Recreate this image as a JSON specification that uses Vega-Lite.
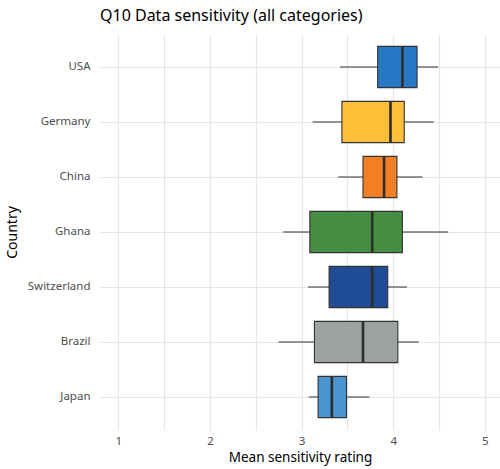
{
  "$schema": "https://vega.github.io/schema/vega-lite/v6.json",
  "autosize": "none",
  "width": 400,
  "height": 396,
  "padding": {"left": 100, "top": 34, "right": 0, "bottom": 39},
  "background": "white",
  "config": {
    "view": {"stroke": null},
    "font": "Noto Sans"
  },
  "title": {
    "text": "Q10 Data sensitivity (all categories)",
    "anchor": "start",
    "frame": "group",
    "fontSize": 16,
    "fontWeight": "normal",
    "color": "#000000",
    "offset": 10
  },
  "data": {
    "values": [
      {"country": "USA", "lower": 3.42, "q1": 3.83, "median": 4.10, "q3": 4.26, "upper": 4.49, "color": "#2777C4"},
      {"country": "Germany", "lower": 3.12, "q1": 3.44, "median": 3.97, "q3": 4.12, "upper": 4.44, "color": "#FDBE38"},
      {"country": "China", "lower": 3.40, "q1": 3.67, "median": 3.90, "q3": 4.04, "upper": 4.32, "color": "#F27F24"},
      {"country": "Ghana", "lower": 2.80, "q1": 3.09, "median": 3.77, "q3": 4.10, "upper": 4.60, "color": "#468E3F"},
      {"country": "Switzerland", "lower": 3.07, "q1": 3.30, "median": 3.77, "q3": 3.94, "upper": 4.15, "color": "#1F4C95"},
      {"country": "Brazil", "lower": 2.75, "q1": 3.14, "median": 3.67, "q3": 4.05, "upper": 4.28, "color": "#9DA2A2"},
      {"country": "Japan", "lower": 3.08, "q1": 3.18, "median": 3.33, "q3": 3.49, "upper": 3.74, "color": "#4A94D0"}
    ]
  },
  "encoding": {
    "y": {
      "field": "country",
      "type": "nominal",
      "sort": ["USA", "Germany", "China", "Ghana", "Switzerland", "Brazil", "Japan"],
      "scale": {"paddingInner": 0.25, "paddingOuter": 0.225},
      "axis": {
        "title": "Country",
        "titleFontSize": 14,
        "titleFontWeight": "normal",
        "titleColor": "#000000",
        "titlePadding": 8,
        "labelFontSize": 11.5,
        "labelColor": "#4d4d4d",
        "labelPadding": 10,
        "ticks": false,
        "domain": false,
        "grid": true,
        "gridColor": "#e6e6e6",
        "gridWidth": 1.2
      }
    }
  },
  "layer": [
    {
      "mark": {"type": "rule", "color": "#333333", "strokeWidth": 1.2},
      "encoding": {
        "x": {
          "field": "lower",
          "type": "quantitative",
          "scale": {"domain": [0.8, 5.165], "nice": false, "zero": false},
          "axis": {
            "title": "Mean sensitivity rating",
            "titleFontSize": 13.5,
            "titleFontWeight": "normal",
            "titleColor": "#000000",
            "titlePadding": 4,
            "values": [1, 1.5, 2, 2.5, 3, 3.5, 4, 4.5, 5],
            "labelExpr": "datum.value % 1 === 0 ? format(datum.value, 'd') : ''",
            "labelFontSize": 11.5,
            "labelColor": "#4d4d4d",
            "labelPadding": 5,
            "ticks": false,
            "domain": false,
            "grid": true,
            "gridColor": "#e6e6e6",
            "gridWidth": 1.2
          }
        },
        "x2": {"field": "upper"}
      }
    },
    {
      "mark": {"type": "bar", "stroke": "#333333", "strokeWidth": 1.1},
      "encoding": {
        "x": {"field": "q1", "type": "quantitative"},
        "x2": {"field": "q3"},
        "color": {"field": "color", "type": "nominal", "scale": null, "legend": null}
      }
    },
    {
      "mark": {"type": "tick", "color": "#2d2d2d", "thickness": 2.6, "size": 41, "opacity": 1},
      "encoding": {
        "x": {"field": "median", "type": "quantitative"}
      }
    }
  ]
}
